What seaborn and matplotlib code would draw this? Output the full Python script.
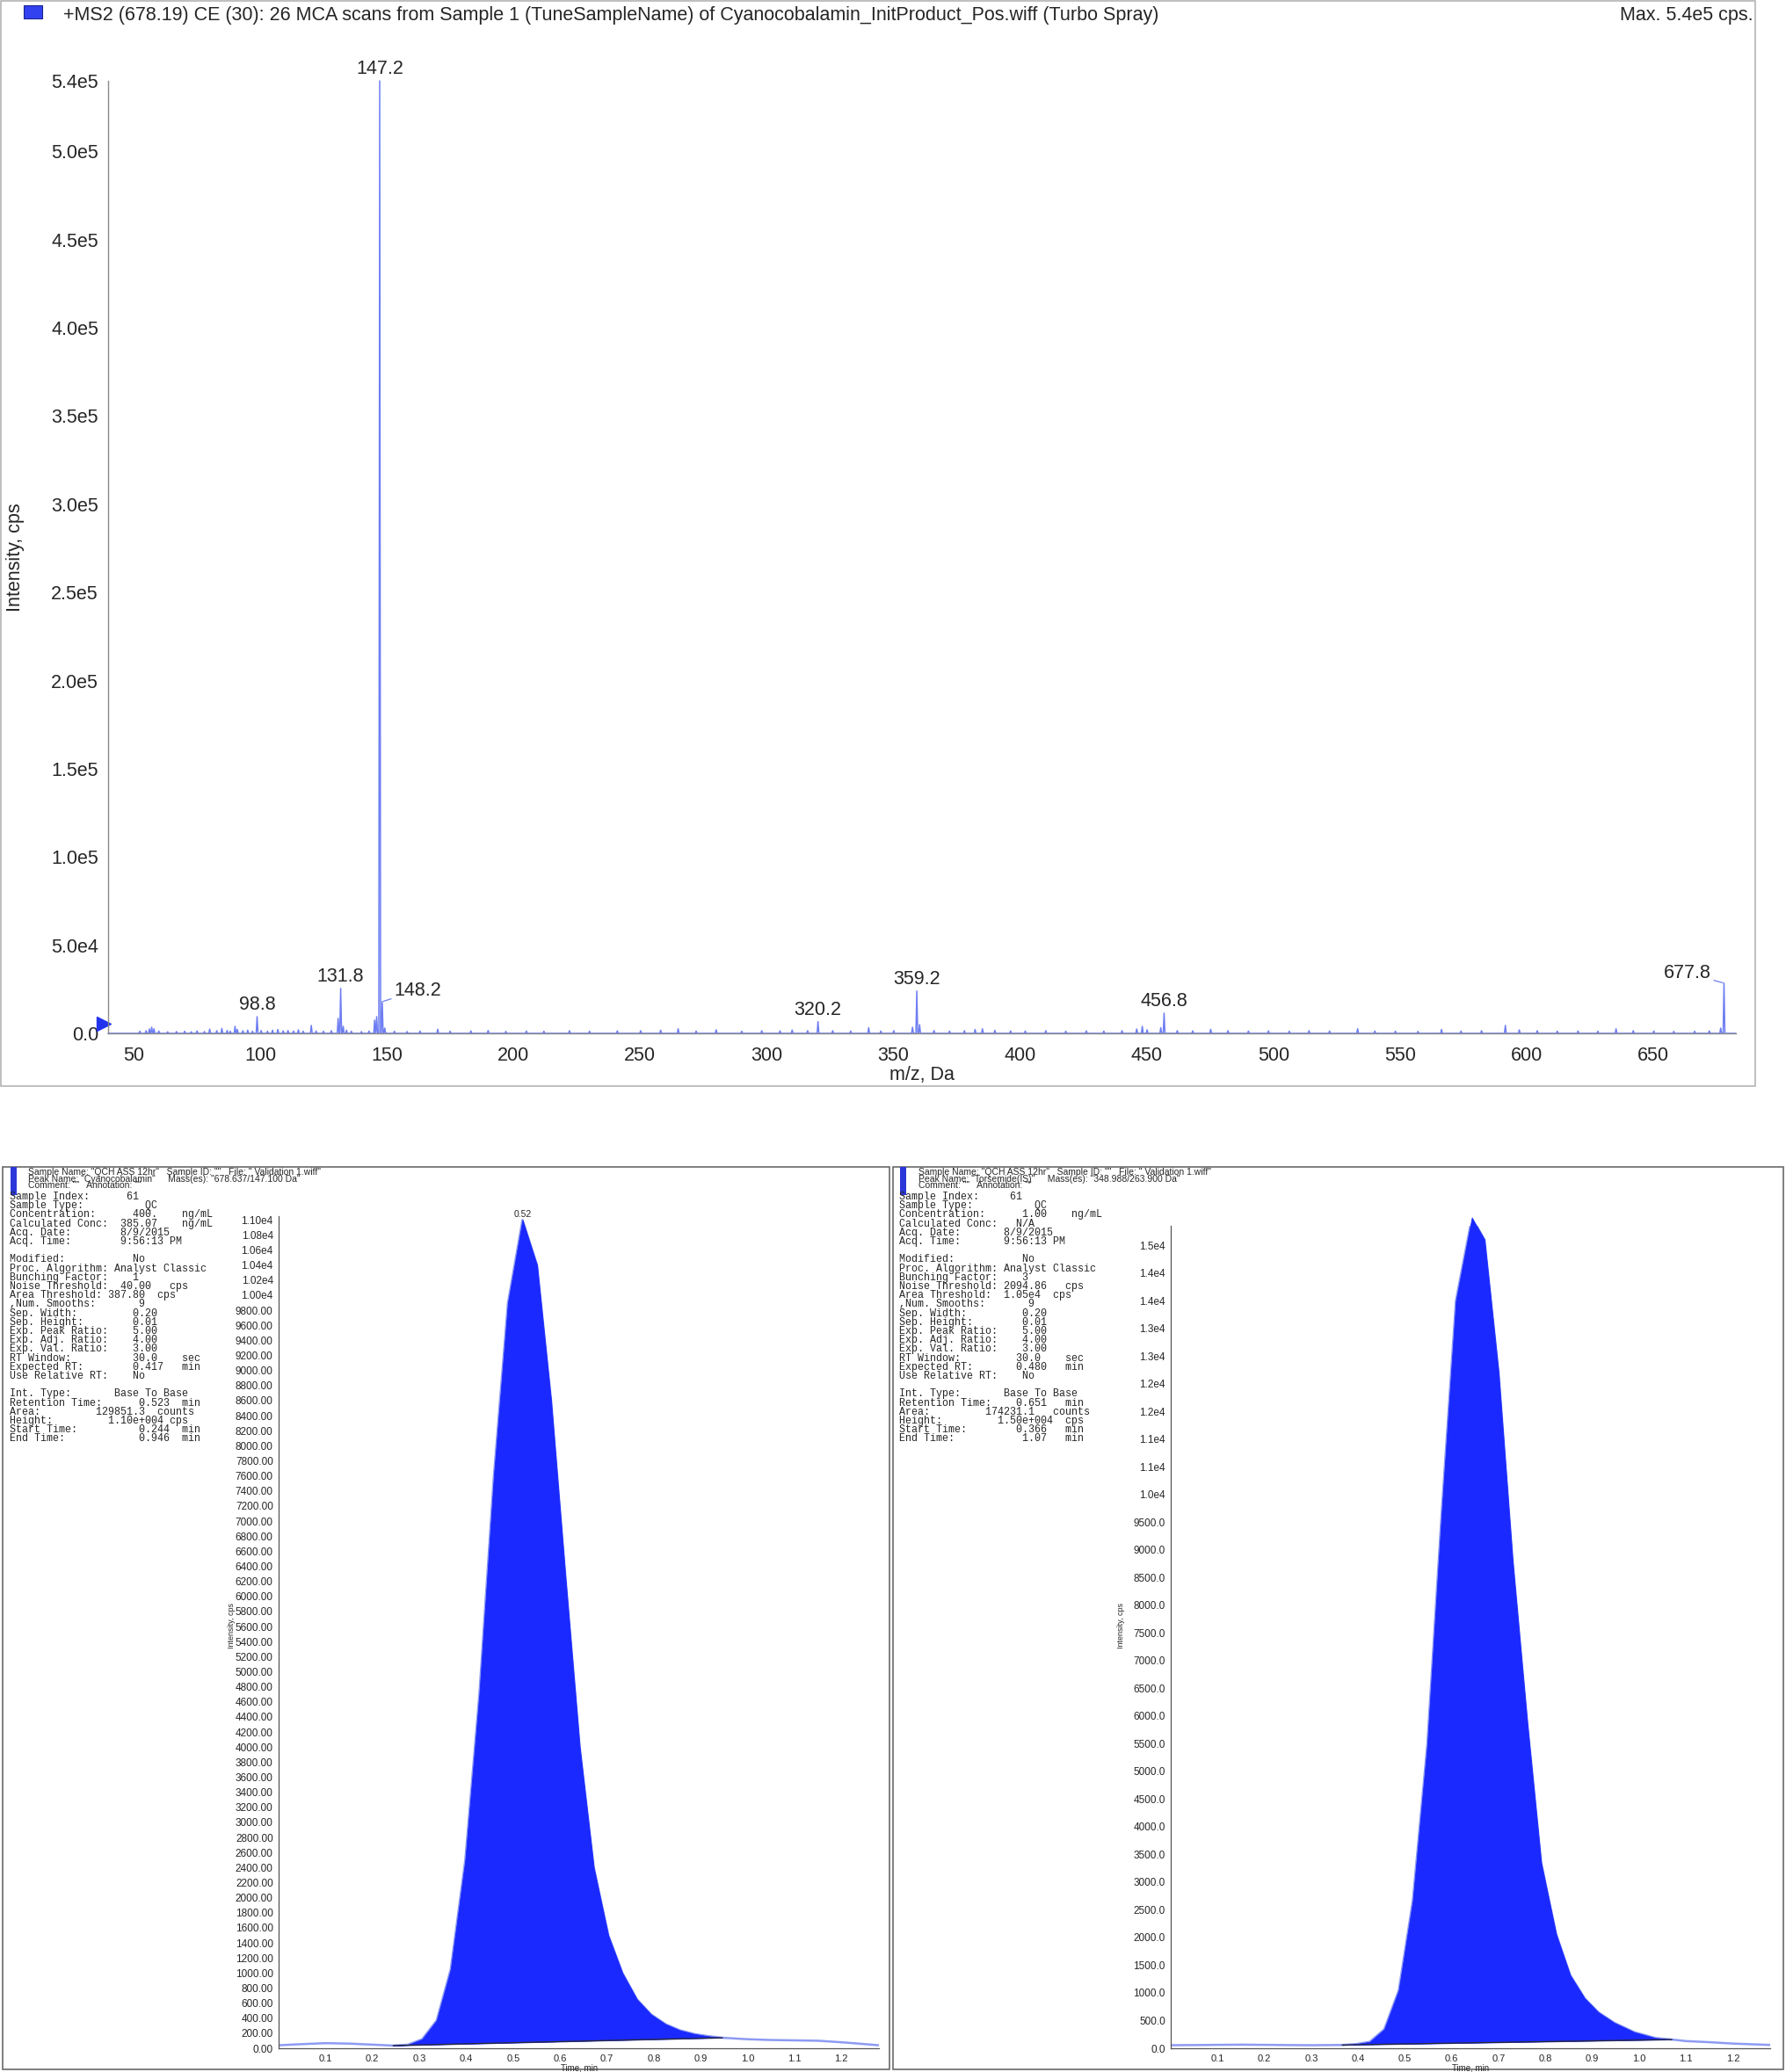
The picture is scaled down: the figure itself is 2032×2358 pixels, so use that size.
import numpy as np
import seaborn as sns
import matplotlib
matplotlib.use("Agg")
import matplotlib.pyplot as plt
from matplotlib import font_manager
from matplotlib.patches import Rectangle
from matplotlib.ticker import FixedLocator

W, H = 2032, 2358

# ---- MS2 product ion spectrum: m/z (Da) and intensity (cps) ----
ms_mz = [52.5, 55.0, 56.3, 57.2, 58.1, 60.0, 63.5, 67.0, 70.2, 72.8,
         75.1, 78.0, 80.1, 82.9, 84.9, 87.0, 88.2, 90.1, 91.0, 93.2,
         95.1, 97.0, 98.8, 100.4, 102.9, 104.9, 107.0, 109.1, 111.0, 113.2,
         115.1, 117.0, 120.2, 122.1, 125.0, 128.1, 130.8, 131.8, 132.8, 134.1,
         136.0, 140.0, 143.0, 145.2, 146.0, 147.2, 148.2, 149.2, 153.0, 158.0,
         163.1, 170.1, 175.0, 183.2, 190.0, 197.0, 205.1, 212.0, 222.1, 230.0,
         241.0, 250.2, 258.1, 265.0, 272.1, 280.0, 290.1, 298.0, 305.2, 310.0,
         316.1, 320.2, 326.0, 333.1, 340.2, 345.0, 350.1, 357.5, 359.2, 360.3,
         366.0, 372.1, 378.0, 382.2, 385.1, 390.0, 396.2, 402.0, 410.1, 418.0,
         426.1, 433.0, 440.2, 446.0, 448.2, 450.1, 455.5, 456.8, 462.0, 468.1,
         475.2, 482.0, 490.1, 498.0, 506.2, 514.0, 522.1, 533.2, 540.0, 548.1,
         557.0, 566.3, 574.0, 582.1, 591.5, 597.0, 604.1, 612.0, 620.2, 628.0,
         635.2, 642.0, 650.1, 658.0, 666.2, 672.0, 676.5, 677.8]
ms_int = [1200, 1500, 2500, 3500, 2600, 1300, 900, 1000, 1200, 900,
          1400, 1000, 2400, 1500, 2800, 1600, 1200, 4000, 2200, 1500,
          1800, 1200, 9500, 1600, 1200, 1800, 2200, 1400, 1600, 1300,
          2000, 1200, 4500, 1300, 1200, 1500, 8500, 25500, 4000, 1800,
          1200, 1000, 1300, 7500, 9500, 540000, 18000, 3000, 1200, 1000,
          1300, 2300, 1200, 1400, 1600, 1100, 1300, 1200, 1500, 1200,
          1400, 1500, 1800, 2600, 1300, 2000, 1200, 1500, 1400, 1900,
          1500, 6700, 1500, 1300, 3200, 1300, 1500, 3500, 24000, 5000,
          1600, 1300, 1500, 2200, 2600, 1700, 1400, 1300, 1500, 1200,
          1400, 1300, 1500, 2500, 4000, 2000, 3200, 11500, 1500, 1400,
          2300, 1500, 1300, 1400, 1200, 1500, 1300, 2600, 1300, 1200,
          1100, 2200, 1300, 1500, 4500, 2000, 1500, 1200, 1300, 1200,
          2600, 1500, 1300, 1100, 1200, 1400, 3000, 28500]
assert len(ms_mz) == len(ms_int)
ms_labeled = [98.8, 131.8, 147.2, 148.2, 320.2, 359.2, 456.8, 677.8]
ms_xticks = list(range(50, 651, 50))
ms_yticks = [0, 50000, 100000, 150000, 200000, 250000, 300000, 350000,
             400000, 450000, 500000, 540000]
ms_ylabels = ["0.0", "5.0e4", "1.0e5", "1.5e5", "2.0e5", "2.5e5", "3.0e5",
              "3.5e5", "4.0e5", "4.5e5", "5.0e5", "5.4e5"]

# ---- XIC: Cyanocobalamin (678.637/147.100) ----
cy_time = [0.00, 0.05, 0.10, 0.15, 0.20, 0.244, 0.276, 0.306, 0.337, 0.367,
           0.398, 0.428, 0.459, 0.489, 0.520, 0.551, 0.581, 0.611, 0.642, 0.672,
           0.703, 0.733, 0.764, 0.794, 0.825, 0.855, 0.886, 0.916, 0.946, 1.00,
           1.05, 1.10, 1.15, 1.20, 1.28]
cy_int = [40, 55, 68, 62, 48, 36, 48, 120, 370, 1050,
          2500, 4700, 7600, 9900, 11000, 10400, 8600, 6300, 4000, 2400,
          1500, 1000, 650, 450, 320, 240, 190, 160, 140, 120,
          110, 105, 100, 80, 40]
cy_start, cy_end = 0.244, 0.946

# ---- XIC: Torsemide (IS) (348.988/263.900) ----
to_time = [0.00, 0.05, 0.10, 0.15, 0.20, 0.25, 0.30, 0.366, 0.395, 0.425,
           0.456, 0.487, 0.517, 0.548, 0.578, 0.609, 0.643, 0.670, 0.700, 0.730,
           0.761, 0.791, 0.823, 0.853, 0.884, 0.913, 0.947, 0.990, 1.035, 1.070,
           1.10, 1.15, 1.20, 1.28]
to_int = [55, 58, 62, 65, 62, 58, 55, 60, 75, 116,
          343, 1050, 2670, 5500, 9600, 13500, 15000, 14600, 12200, 8800,
          5900, 3350, 2060, 1320, 900, 650, 460, 290, 185, 158,
          130, 110, 85, 60]
to_start, to_end = 0.366, 1.070

cy_yticks = list(range(0, 11001, 200))
cy_ylabels = ["%.2f" % v if v < 10000 else "%.2fe4" % (v / 1e4) for v in cy_yticks]
to_yticks = list(range(0, 14501, 500))
to_ylabels = ["%.1f" % v for v in range(0, 9501, 500)] + [
    "1.0e4", "1.1e4", "1.1e4", "1.2e4", "1.2e4", "1.3e4", "1.3e4", "1.4e4", "1.4e4", "1.5e4"]
time_ticks = [0.1, 0.2, 0.3, 0.4, 0.5, 0.6, 0.7, 0.8, 0.9, 1.0, 1.1, 1.2]

title = ("+MS2 (678.19) CE (30): 26 MCA scans from Sample 1 (TuneSampleName) "
         "of Cyanocobalamin_InitProduct_Pos.wiff (Turbo Spray)")

cy_header = ['Sample Name: "QCH ASS 12hr"   Sample ID: ""   File: " Validation 1.wiff"',
             'Peak Name: "Cyanocobalamin"     Mass(es): "678.637/147.100 Da"',
             'Comment: ""   Annotation: ""']
to_header = ['Sample Name: "QCH ASS 12hr"   Sample ID: ""   File: " Validation 1.wiff"',
             'Peak Name: "Torsemide(IS)"     Mass(es): "348.988/263.900 Da"',
             'Comment: ""   Annotation: ""']

cy_rows = [("Sample Index:", "61", 19), ("Sample Type:", "QC", 22),
           ("Concentration:", "400.", 20, "ng/mL", 28),
           ("Calculated Conc:", "385.07", 18, "ng/mL", 28),
           ("Acq. Date:", "8/9/2015", 18), ("Acq. Time:", "9:56:13 PM", 18), ("",),
           ("Modified:", "No", 20), ("Proc. Algorithm:", "Analyst Classic", 17),
           ("Bunching Factor:", "1", 20), ("Noise Threshold:", "40.00", 18, "cps", 26),
           ("Area Threshold:", "387.80", 16, "cps", 24), (",Num. Smooths:", "9", 21),
           ("Sep. Width:", "0.20", 20), ("Sep. Height:", "0.01", 20),
           ("Exp. Peak Ratio:", "5.00", 20), ("Exp. Adj. Ratio:", "4.00", 20),
           ("Exp. Val. Ratio:", "3.00", 20), ("RT Window:", "30.0", 20, "sec", 28),
           ("Expected RT:", "0.417", 20, "min", 28), ("Use Relative RT:", "No", 20), ("",),
           ("Int. Type:", "Base To Base", 17), ("Retention Time:", "0.523", 21, "min", 28),
           ("Area:", "129851.3", 14, "counts", 24), ("Height:", "1.10e+004", 16, "cps", 26),
           ("Start Time:", "0.244", 21, "min", 28), ("End Time:", "0.946", 21, "min", 28)]
to_rows = [("Sample Index:", "61", 18), ("Sample Type:", "QC", 22),
           ("Concentration:", "1.00", 20, "ng/mL", 28),
           ("Calculated Conc:", "N/A", 19),
           ("Acq. Date:", "8/9/2015", 17), ("Acq. Time:", "9:56:13 PM", 17), ("",),
           ("Modified:", "No", 20), ("Proc. Algorithm:", "Analyst Classic", 17),
           ("Bunching Factor:", "3", 20), ("Noise Threshold:", "2094.86", 17, "cps", 27),
           ("Area Threshold:", "1.05e4", 17, "cps", 25), (",Num. Smooths:", "9", 21),
           ("Sep. Width:", "0.20", 20), ("Sep. Height:", "0.01", 20),
           ("Exp. Peak Ratio:", "5.00", 20), ("Exp. Adj. Ratio:", "4.00", 20),
           ("Exp. Val. Ratio:", "3.00", 20), ("RT Window:", "30.0", 19, "sec", 27),
           ("Expected RT:", "0.480", 19, "min", 27), ("Use Relative RT:", "No", 20), ("",),
           ("Int. Type:", "Base To Base", 17), ("Retention Time:", "0.651", 19, "min", 27),
           ("Area:", "174231.1", 14, "counts", 25), ("Height:", "1.50e+004", 16, "cps", 27),
           ("Start Time:", "0.366", 19, "min", 27), ("End Time:", "1.07", 20, "min", 27)]

# ---------------------------------------------------------------------------
sns.set_style("white")
plt.rcParams["font.family"] = ["Liberation Sans", "DejaVu Sans"]
names = {f.name for f in font_manager.fontManager.ttflist}
if "Liberation Sans Narrow" in names:
    TOP_FONT, TOP_SIZE = ["Liberation Sans Narrow", "Liberation Sans"], 19
else:
    TOP_FONT, TOP_SIZE = ["Liberation Sans"], 15.5

SPEC = "#6e7ef2"
FILL = "#1a29ff"
TRACE = "#8d9bf2"


def fx(x):
    return x / W


def fy(y):
    return 1 - y / H


def box(x0, y0, x1, y1):
    return [x0 / W, 1 - y1 / H, (x1 - x0) / W, (y1 - y0) / H]


def frame(fig, x0, y0, x1, y1, color):
    fig.add_artist(Rectangle((fx(x0), fy(y1)), (x1 - x0) / W, (y1 - y0) / H,
                             transform=fig.transFigure, fill=False, ec=color, lw=1.2))


def row(r):
    if len(r) == 1:
        return ""
    s = r[0].ljust(r[2] - 1) + " " + r[1]
    if len(r) > 3:
        s = s.ljust(r[4] - 1) + " " + r[3]
    return s


fig = plt.figure(figsize=(W / 100, H / 100), dpi=100)

# ------------------------- top: MS2 spectrum -------------------------------
frame(fig, 1, 1, 1997, 1236, "#b4b4b4")
fig.add_artist(Rectangle((fx(27), fy(21)), 21 / W, 15 / H, transform=fig.transFigure,
                         fc="#3342f0", ec="#1b2590", lw=0.8))
fig.text(fx(72), fy(18), title, fontsize=TOP_SIZE, family=TOP_FONT, va="center")
fig.text(fx(1995), fy(18), "Max. 5.4e5 cps.", fontsize=TOP_SIZE, family=TOP_FONT,
         va="center", ha="right")

ax = fig.add_axes(box(123, 92, 1975, 1176))
xs, ys = [40.0], [0.0]
for m, h in sorted(zip(ms_mz, ms_int)):
    xs += [m - 0.35, m, m + 0.35]
    ys += [0, h, 0]
xs.append(682.5)
ys.append(0)
sns.lineplot(x=xs, y=ys, ax=ax, color=SPEC, lw=1.1, sort=False, estimator=None)
for line in ax.lines:
    line.set_clip_on(False)
ax.set_xlim(40, 682.5)
ax.set_ylim(0, 540000)
for side in ("top", "right"):
    ax.spines[side].set_visible(False)
for side in ("left", "bottom"):
    ax.spines[side].set_color("#8a8a8a")
    ax.spines[side].set_linewidth(1.0)
ax.set_xticks(ms_xticks, [str(v) for v in ms_xticks], family=TOP_FONT, fontsize=TOP_SIZE)
ax.set_yticks(ms_yticks, ms_ylabels, family=TOP_FONT, fontsize=TOP_SIZE)
ax.xaxis.set_minor_locator(FixedLocator(list(range(40, 681, 10))))
ax.tick_params(axis="x", which="major", direction="out", length=5, width=1, color="#8a8a8a", pad=6)
ax.tick_params(axis="x", which="minor", direction="out", length=3, width=1, color="#8a8a8a")
ax.tick_params(axis="y", which="major", direction="out", length=4, width=1, color="#8a8a8a", pad=4)
ax.grid(False)
ax.set_xlabel("")
ax.set_ylabel("")
fig.text(fx(18), fy(634), "Intensity, cps", rotation=90, ha="center", va="center",
         fontsize=TOP_SIZE, family=TOP_FONT)
fig.text(fx(1049), fy(1224), "m/z, Da", ha="center", va="center",
         fontsize=TOP_SIZE, family=TOP_FONT)

lab_off = {148.2: (29, 9), 677.8: (-30, 8)}
for m in ms_labeled:
    h = ms_int[ms_mz.index(m)]
    if m in lab_off:
        ax.annotate("%.1f" % m, (m, h), xytext=lab_off[m], textcoords="offset points",
                    ha="center", va="center", fontsize=TOP_SIZE, family=TOP_FONT,
                    arrowprops=dict(arrowstyle="-", color=SPEC, lw=0.9, shrinkA=9, shrinkB=1),
                    annotation_clip=False)
    else:
        ax.annotate("%.1f" % m, (m, h), xytext=(0, 2), textcoords="offset points",
                    ha="center", va="bottom", fontsize=TOP_SIZE, family=TOP_FONT,
                    annotation_clip=False)
ax.plot([-0.0025], [0.01], marker=">", ms=11, color="#2233ee", mec="#2233ee",
        transform=ax.transAxes, clip_on=False)


# ------------------------- bottom: XIC panels ------------------------------
def chrom_panel(rect, t, inten, t0, t1, yticks, ylabels, ytop, yminor):
    a = fig.add_axes(rect)
    t = np.asarray(t, dtype=float)
    inten = np.asarray(inten, dtype=float)
    sel = (t >= t0 - 1e-9) & (t <= t1 + 1e-9)
    i0, i1 = inten[sel][0], inten[sel][-1]
    base = np.interp(t[sel], [t0, t1], [i0, i1])
    sns.lineplot(x=t, y=inten, ax=a, color=TRACE, lw=1.8, sort=False, estimator=None, zorder=1)
    a.fill_between(t[sel], base, inten[sel], color=FILL, lw=0.6, ec=FILL, zorder=2, clip_on=False)
    sns.lineplot(x=[t0, t1], y=[i0, i1], ax=a, color="#2a2a2a", lw=0.9, estimator=None, zorder=3)
    k = int(np.argmax(inten))
    a.annotate("%.2f" % t[k], (t[k], inten[k]), xytext=(0, 1), textcoords="offset points",
               ha="center", va="bottom", fontsize=7.5)
    a.set_xlim(0, 1.28)
    a.set_ylim(0, ytop)
    for side in ("top", "right"):
        a.spines[side].set_visible(False)
    for side in ("left", "bottom"):
        a.spines[side].set_color("#555555")
        a.spines[side].set_linewidth(0.9)
    a.set_xticks(time_ticks, ["%.1f" % v for v in time_ticks], fontsize=8)
    a.set_yticks(yticks, ylabels, fontsize=8.5)
    a.xaxis.set_minor_locator(FixedLocator([0.05 + 0.1 * i for i in range(13)]))
    a.yaxis.set_minor_locator(FixedLocator(list(np.arange(0, ytop, yminor))))
    a.tick_params(which="major", direction="out", length=3, width=0.8, color="#555555", pad=1.5)
    a.tick_params(which="minor", direction="out", length=1.8, width=0.7, color="#555555")
    a.tick_params(axis="x", pad=2)
    a.grid(False)
    a.set_xlabel("")
    a.set_ylabel("")
    return a


def text_block(x_mono, x_head, header, rows):
    for i, s in enumerate(header):
        fig.text(fx(x_head), fy(1334 + 7.7 * i), s, fontsize=7.5, va="center")
    for i, r in enumerate(rows):
        fig.text(fx(x_mono), fy(1362 + 10.2 * i), row(r), fontsize=8.4, va="center",
                 family=["Liberation Mono", "DejaVu Sans Mono"])


# left panel
frame(fig, 3, 1328, 1012, 2355, "#6a6a6a")
fig.add_artist(Rectangle((fx(12), fy(1360)), 7 / W, 32 / H, transform=fig.transFigure,
                         fc="#2b37d8", ec="none"))
text_block(11, 32, cy_header, cy_rows)
chrom_panel(box(317, 1384, 1000, 2331), cy_time, cy_int, cy_start, cy_end,
            cy_yticks, cy_ylabels, 11050, 50)
fig.text(fx(263), fy(1850), "Intensity, cps", rotation=90, ha="center", va="center", fontsize=6.5)
fig.text(fx(659), fy(2354), "Time, min", ha="center", va="center", fontsize=7)

# right panel
frame(fig, 1016, 1328, 2029, 2355, "#6a6a6a")
fig.add_artist(Rectangle((fx(1024), fy(1360)), 7 / W, 32 / H, transform=fig.transFigure,
                         fc="#2b37d8", ec="none"))
text_block(1023, 1045, to_header, to_rows)
chrom_panel(box(1332, 1395, 2014, 2331), to_time, to_int, to_start, to_end,
            to_yticks, to_ylabels, 14850, 100)
fig.text(fx(1275), fy(1850), "Intensity, cps", rotation=90, ha="center", va="center", fontsize=6.5)
fig.text(fx(1673), fy(2354), "Time, min", ha="center", va="center", fontsize=7)

fig.savefig("out.png", dpi=100)
plt.close(fig)
